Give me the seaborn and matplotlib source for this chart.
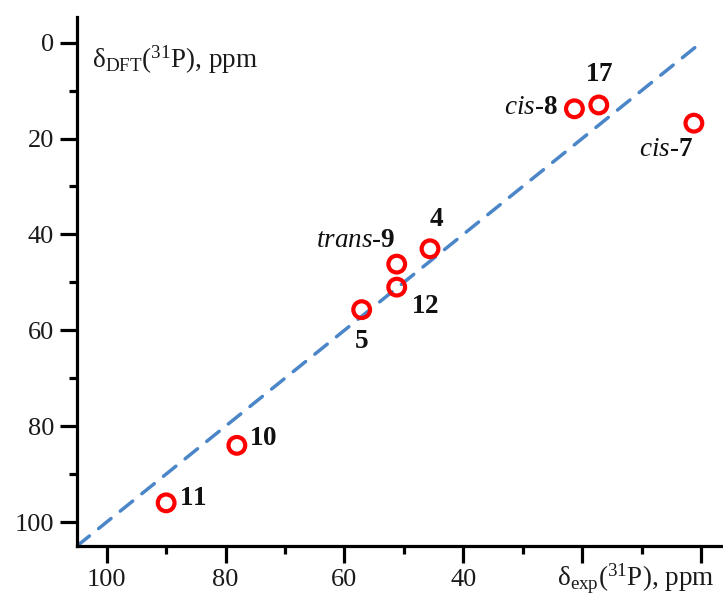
import matplotlib
matplotlib.use("Agg")
import matplotlib.pyplot as plt
import seaborn as sns
import pandas as pd
from matplotlib.ticker import MultipleLocator, FixedLocator

sns.set_theme(style="white")
plt.rcParams['font.family'] = ['Liberation Serif', 'DejaVu Serif']
plt.rcParams['mathtext.fontset'] = 'custom'
plt.rcParams['mathtext.rm'] = 'Liberation Serif'
plt.rcParams['mathtext.it'] = 'Liberation Serif:italic'
plt.rcParams['mathtext.bf'] = 'Liberation Serif:bold'

# Data
compounds = ["11", "10", "5", "12", "trans-9", "4", "cis-8", "17", "cis-7"]
delta_exp = [90.0, 78.1, 57.1, 51.2, 51.2, 45.6, 21.3, 17.2, 1.2]
delta_dft = [96.0, 84.0, 55.7, 51.0, 46.2, 43.0, 13.8, 13.0, 16.8]
diag_x = [105, 0]
diag_y = [105, 0]
x_ticks = [100, 80, 60, 40, 20, 0]
x_tick_labels = ["100", "80", "60", "40", "", ""]
y_ticks = [0, 20, 40, 60, 80, 100]

df = pd.DataFrame({"exp": delta_exp, "dft": delta_dft, "name": compounds})
diag = pd.DataFrame({"x": diag_x, "y": diag_y})

fig = plt.figure(figsize=(7.23, 5.97), dpi=100)
ax = fig.add_axes([77/723, 51/597, 1 - 77/723, (546-17)/597])

sns.lineplot(data=diag, x="x", y="y", ax=ax, color="#4A86C8", lw=2.5,
             dashes=False, estimator=None, sort=False)
ax.lines[-1].set_linestyle((0, (4.6, 3.4)))
ax.lines[-1].set_dash_capstyle("round")

sns.scatterplot(data=df, x="exp", y="dft", ax=ax, marker="o", s=145,
                facecolor="none", edgecolor="#FF0000", linewidth=3.0, zorder=5)

ax.set_xlim(105, -3.7)
ax.set_ylim(105, -5.35)

ax.xaxis.set_major_locator(FixedLocator(x_ticks))
ax.set_xticklabels(x_tick_labels)
ax.xaxis.set_minor_locator(MultipleLocator(10))
ax.yaxis.set_major_locator(FixedLocator(y_ticks))
ax.set_yticklabels([str(v) for v in y_ticks])
ax.yaxis.set_minor_locator(MultipleLocator(10))

for s in ["top", "right"]:
    ax.spines[s].set_visible(False)
for s in ["left", "bottom"]:
    ax.spines[s].set_color("black")
    ax.spines[s].set_linewidth(2.3)

ax.tick_params(which="major", direction="out", length=12.5, width=2.3,
               labelsize=19, pad=4, color="black", labelcolor="#1a1a1a",
               bottom=True, left=True)
ax.tick_params(which="minor", direction="out", length=6, width=2.3,
               color="black", bottom=True, left=True)
ax.set_xlabel("")
ax.set_ylabel("")

# Axis titles
fig.text(92/723, 1 - 43/597, r"δ$_{\mathrm{DFT}}$($^{31}$P), ppm",
         fontsize=19.5, color="#1a1a1a", ha="left", va="top")
fig.text(557/723, 1 - 586/597, r"δ$_{\mathrm{exp}}$($^{31}$P), ppm",
         fontsize=19.5, color="#1a1a1a", ha="left", va="baseline")

# Point labels (offsets in points)
labels = {
    "11": (r"$\mathbf{11}$", (9, 3), "left", "center"),
    "10": (r"$\mathbf{10}$", (9, 5), "left", "center"),
    "5": (r"$\mathbf{5}$", (0, -14), "center", "top"),
    "12": (r"$\mathbf{12}$", (10, -5), "left", "top"),
    "trans-9": (r"$\mathit{trans}$-$\mathbf{9}$", (-1, 8), "right", "bottom"),
    "4": (r"$\mathbf{4}$", (5, 12), "center", "bottom"),
    "cis-8": (r"$\mathit{cis}$-$\mathbf{8}$", (-12, 1), "right", "center"),
    "17": (r"$\mathbf{17}$", (0, 13), "center", "bottom"),
    "cis-7": (r"$\mathit{cis}$-$\mathbf{7}$", (-20, -10), "center", "top"),
}
for name, xv, yv in zip(compounds, delta_exp, delta_dft):
    txt, off, ha, va = labels[name]
    ax.annotate(txt, (xv, yv), xytext=off, textcoords="offset points",
                fontsize=19.5, ha=ha, va=va, color="#111111")

fig.savefig("out.png", dpi=100)
